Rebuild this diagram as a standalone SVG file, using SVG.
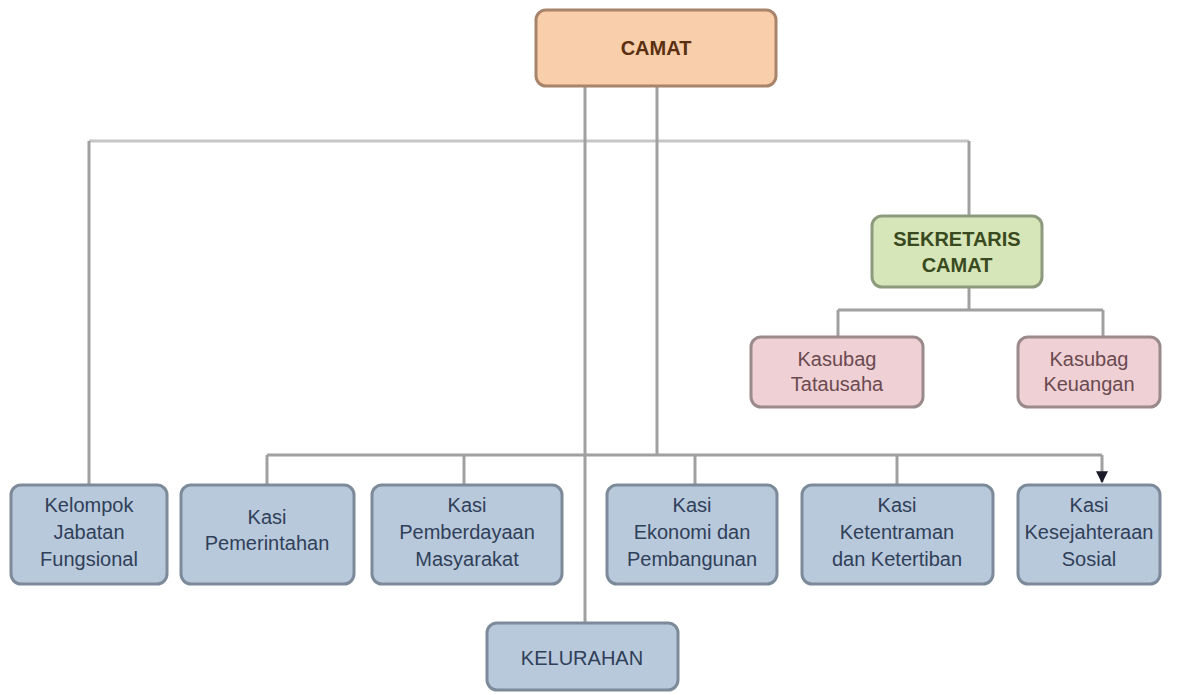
<svg xmlns="http://www.w3.org/2000/svg" width="1181" height="695" viewBox="0 0 1181 695">
<style>
.box{stroke-width:3}
.peach{fill:#f9cfab;stroke:#a8846a}
.green{fill:#d6e6b8;stroke:#8d9a7e}
.pink{fill:#efd0d4;stroke:#9a8a8c}
.blue{fill:#b9c9dc;stroke:#7c8a99}
text{font-family:"Liberation Sans",Arial,sans-serif;font-size:20px;text-anchor:middle;dominant-baseline:central}
.tb{font-weight:bold}
.t-peach{fill:#5a3010}
.t-green{fill:#3a4a20}
.t-pink{fill:#6a4a50}
.t-blue{fill:#2f4058}
.ln{fill:none;stroke:#a0a0a0;stroke-width:3}
.lnl{fill:none;stroke:#c6c6c6;stroke-width:3}
</style>
<defs>
<marker id="arr" viewBox="0 0 10 10" refX="9" refY="5" markerWidth="4" markerHeight="4" orient="auto">
<path d="M0,0 L10,5 L0,10 z" fill="#1a1a2a"/>
</marker>
</defs>
<rect width="1181" height="695" fill="#ffffff"/>
<g id="connectors">
<path class="lnl" d="M89,141 H969"/>
<path class="ln" d="M89,141 V485"/>
<path class="ln" d="M969,141 V216"/>
<path class="ln" d="M585,86 V623"/>
<path class="ln" d="M657,86 V455"/>
<path class="ln" d="M969,287 V310"/>
<path class="ln" d="M838,310 H1103"/>
<path class="ln" d="M838,310 V337"/>
<path class="ln" d="M1103,310 V337"/>
<path class="ln" d="M267,455 H1102"/>
<path class="ln" d="M267,455 V485"/>
<path class="ln" d="M464,455 V485"/>
<path class="ln" d="M695,455 V485"/>
<path class="ln" d="M897,455 V485"/>
<path class="ln" d="M1102,455 V482" marker-end="url(#arr)"/>
</g>
<g id="camat">
<rect class="box peach" x="536" y="10" width="240" height="76" rx="10"/>
<text class="tb t-peach" x="656" y="48" font-size="22">CAMAT</text>
</g>
<g id="sekretaris">
<rect class="box green" x="872" y="216" width="170" height="71" rx="10"/>
<text class="tb t-green" x="957" y="239">SEKRETARIS</text>
<text class="tb t-green" x="957" y="265">CAMAT</text>
</g>
<g id="kasubag-tatausaha">
<rect class="box pink" x="751" y="337" width="172" height="70" rx="10"/>
<text class="t-pink" x="837" y="359">Kasubag</text>
<text class="t-pink" x="837" y="384">Tatausaha</text>
</g>
<g id="kasubag-keuangan">
<rect class="box pink" x="1018" y="337" width="142" height="70" rx="10"/>
<text class="t-pink" x="1089" y="359">Kasubag</text>
<text class="t-pink" x="1089" y="384">Keuangan</text>
</g>
<g id="kelompok">
<rect class="box blue" x="11" y="485" width="156" height="99" rx="10"/>
<text class="t-blue" x="89" y="505">Kelompok</text>
<text class="t-blue" x="89" y="532">Jabatan</text>
<text class="t-blue" x="89" y="559">Fungsional</text>
</g>
<g id="kasi-pemerintahan">
<rect class="box blue" x="181" y="485" width="173" height="99" rx="10"/>
<text class="t-blue" x="267" y="517">Kasi</text>
<text class="t-blue" x="267" y="543">Pemerintahan</text>
</g>
<g id="kasi-pemberdayaan">
<rect class="box blue" x="372" y="485" width="190" height="99" rx="10"/>
<text class="t-blue" x="467" y="505">Kasi</text>
<text class="t-blue" x="467" y="532">Pemberdayaan</text>
<text class="t-blue" x="467" y="559">Masyarakat</text>
</g>
<g id="kasi-ekonomi">
<rect class="box blue" x="607" y="485" width="170" height="99" rx="10"/>
<text class="t-blue" x="692" y="505">Kasi</text>
<text class="t-blue" x="692" y="532">Ekonomi dan</text>
<text class="t-blue" x="692" y="559">Pembangunan</text>
</g>
<g id="kasi-ketentraman">
<rect class="box blue" x="802" y="485" width="191" height="99" rx="10"/>
<text class="t-blue" x="897" y="505">Kasi</text>
<text class="t-blue" x="897" y="532">Ketentraman</text>
<text class="t-blue" x="897" y="559">dan Ketertiban</text>
</g>
<g id="kasi-kesejahteraan">
<rect class="box blue" x="1018" y="485" width="142" height="99" rx="10"/>
<text class="t-blue" x="1089" y="505">Kasi</text>
<text class="t-blue" x="1089" y="532">Kesejahteraan</text>
<text class="t-blue" x="1089" y="559">Sosial</text>
</g>
<g id="kelurahan">
<rect class="box blue" x="487" y="623" width="191" height="67" rx="10"/>
<text class="t-blue" x="582" y="658">KELURAHAN</text>
</g>
</svg>
